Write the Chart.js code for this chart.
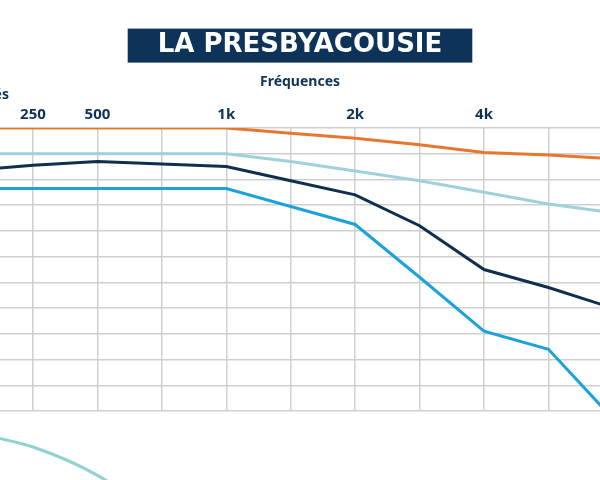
<!DOCTYPE html>
<html>
<head>
<meta charset="utf-8">
<script src="https://cdn.jsdelivr.net/npm/chart.js@4"></script>
<style>
  body { margin: 0; background: #fff; overflow: hidden; }
  #wrap { width: 600px; height: 480px; }
</style>
</head>
<body>
<div id="wrap"><canvas id="audio" width="600" height="480"></canvas></div>
<script>
// frequencies (one slot per gridline), only some are labelled
const freqs = ['125', '250', '500', '750', '1k', '1.5k', '2k', '3k', '4k', '6k', '8k'];
const tickLabels = ['', '250', '500', '', '1k', '', '2k', '', '4k', '', ''];

// hearing loss in dB for each curve
const lossA = [0, 0, 0, 0, 0, 2, 4, 6.5, 9.5, 10.5, 12];
const lossB = [10, 10, 10, 10, 10, 13, 16.7, 20.5, 25, 29.5, 33];
const lossC = [16.5, 14.5, 13, 14, 15, 20.5, 26, 38, 55, 62, 70];
const lossD = [23.5, 23.5, 23.5, 23.5, 23.5, 30.5, 37.5, 58, 79, 86, 113];
const lossE = [118, 124, 135, 152, null, null, null, null, null, null, null];

const navy = '#0d3358';

function toPoints(arr) {
    return arr.map((v, i) => ({ x: i, y: v }));
}

function makeLine(label, values, color, extra) {
    return Object.assign({
        label: label,
        data: toPoints(values),
        borderColor: color,
        backgroundColor: color,
        borderWidth: 3,
        pointRadius: 0,
        tension: 0,
        fill: false
    }, extra || {});
}

// dark box behind the title + the cut-off axis caption on the left
const titleBox = {
    id: 'titleBox',
    beforeDraw(chart) {
        const ctx = chart.ctx;
        const tb = chart.titleBlock;
        const opts = tb.options;
        ctx.save();
        ctx.font = 'bold 26px "DejaVu Sans"';
        const w = ctx.measureText(opts.text).width;
        const cy = tb.top + opts.padding.top + 26 * 1.2 / 2;
        ctx.fillStyle = navy;
        ctx.fillRect(chart.width / 2 - w / 2 - 30, cy - 17, w + 60, 34);

        ctx.font = 'bold 14px "Noto Sans"';
        ctx.fillStyle = navy;
        ctx.textAlign = 'right';
        ctx.textBaseline = 'middle';
        ctx.fillText('Intensités', 9, 95);
        ctx.restore();
    }
};

const config = {
    type: 'line',
    data: {
        datasets: [
            makeLine('A', lossA, '#e8772e'),
            makeLine('B', lossB, '#9dd1dc'),
            makeLine('C', lossC, '#0f2f4e'),
            makeLine('D', lossD, '#1ba2dc'),
            makeLine('E', lossE, '#8ed2d2', { tension: 0.3, clip: false })
        ]
    },
    options: {
        responsive: false,
        animation: false,
        layout: { padding: { bottom: 69 } },
        plugins: {
            legend: { display: false },
            tooltip: { enabled: false },
            title: {
                display: true,
                text: 'LA PRESBYACOUSIE',
                color: '#ffffff',
                font: { family: '"DejaVu Sans"', size: 26, weight: 'bold' },
                padding: { top: 30, bottom: 2 }
            }
        },
        scales: {
            x: {
                type: 'linear',
                position: 'top',
                min: 0.488,
                max: 9.8,
                border: { display: false },
                grid: { color: '#cfcfcf', lineWidth: 1.5, drawTicks: false },
                ticks: {
                    stepSize: 1,
                    includeBounds: false,
                    autoSkip: false,
                    maxRotation: 0,
                    padding: 4,
                    color: navy,
                    font: { family: '"Noto Sans"', size: 15, weight: 'bold' },
                    callback: (v) => tickLabels[v] || ''
                },
                title: {
                    display: true,
                    text: 'Fréquences',
                    color: navy,
                    font: { family: '"Noto Sans"', size: 14, weight: 'bold' },
                    padding: { top: 10, bottom: 12 }
                }
            },
            y: {
                reverse: true,
                min: 0,
                max: 110,
                border: { display: false },
                grid: { color: '#cfcfcf', lineWidth: 1.5, drawTicks: false },
                ticks: { display: false, stepSize: 10 }
            }
        }
    },
    plugins: [titleBox]
};

window.onload = function () {
    const ctx = document.getElementById('audio').getContext('2d');
    new Chart(ctx, config);
};
</script>
</body>
</html>
